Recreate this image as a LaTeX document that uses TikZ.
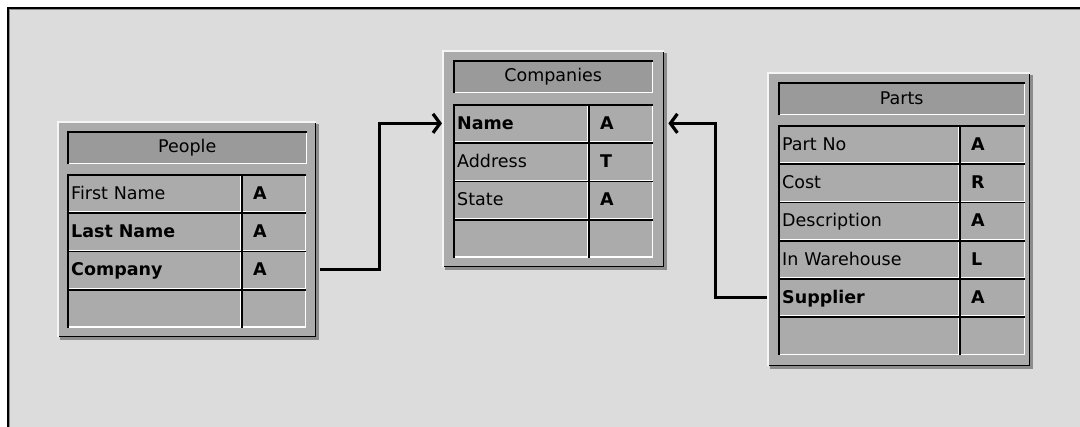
\documentclass[tikz,border=0pt]{standalone}
\usepackage{fontspec}
\setmainfont{DejaVu Sans}
\usetikzlibrary{arrows.meta,positioning,calc}
\definecolor{desk}{RGB}{220,220,220}
\definecolor{wingray}{RGB}{171,171,171}
\definecolor{barcolor}{RGB}{154,154,154}
\definecolor{shadowgray}{RGB}{140,140,140}
\definecolor{hilite}{RGB}{245,245,245}
\newcommand\fieldfont{\fontsize{17.5}{20}\selectfont}
% bevel: node, top/left colour, bottom/right colour
\newcommand\bevel[3]{%
  \draw[#3,line width=1.4pt] ([xshift=-.7pt]#1.north east) -- ([xshift=-.7pt,yshift=.7pt]#1.south east) -- ([yshift=.7pt]#1.south west);
  \draw[#2,line width=1.8pt] ([xshift=.9pt]#1.south west) -- ([xshift=.9pt,yshift=-.9pt]#1.north west) -- ([yshift=-.9pt]#1.north east);}
\tikzset{
  win/.style={fill=wingray, inner sep=0pt, anchor=north west},
  winshadow/.style={fill=shadowgray},
  titlebar/.style={fill=barcolor, inner sep=0pt, anchor=north west, minimum height=33pt, font=\fieldfont},
  field/.style={fill=wingray, anchor=north west, minimum height=38.3pt, inner sep=0pt, inner xsep=4pt, text width=#1, text height=14.5pt, text depth=2.5pt, align=left, font=\fieldfont},
  ftype/.style={fill=wingray, anchor=north west, minimum height=38.3pt, inner sep=0pt, inner xsep=12pt, text width=#1, text height=14.5pt, text depth=2.5pt, align=left, font=\fieldfont\bfseries},
  link/.style={line width=3pt, -{Straight Barb[length=7pt,width=19pt,line width=3.2pt]}},
}

\begin{document}
\begin{tikzpicture}[x=1pt,y=-1pt]
\useasboundingbox (0,0) rectangle (1080,427);
% desktop
\fill[white] (0,0) rectangle (1080,427);
\fill[desk] (7,7) rectangle (1080,427);
\draw[black,line width=2.4pt] (8.2,427) -- (8.2,8.2) -- (1080,8.2);
\draw[shadowgray,line width=1pt] (9.9,427) -- (9.9,9.9) -- (1080,9.9);
% People
\fill[winshadow] (60,124) rectangle ++(259,216);
\node[win, minimum width=259pt, minimum height=216pt] (ppl) at (57,121) {};
\bevel{ppl}{hilite}{black}
\node[titlebar, minimum width=240pt] (ppl-t) at (67,131) {People};
\bevel{ppl-t}{black}{white}
\foreach \fld/\typ/\wt [count=\i] in {First Name/A/\mdseries, Last Name/A/\bfseries, Company/A/\bfseries, {}/{}/\mdseries} {
  \node[field=166pt] (ppl-\i) at (67,{174+(\i-1)*38.3}) {\wt\fld};
  \node[ftype=41pt] (ppl-\i-ty) at (241,{174+(\i-1)*38.3}) {\typ};
  \bevel{ppl-\i}{black}{white}
  \bevel{ppl-\i-ty}{black}{white}
}
% Companies
\fill[winshadow] (445,53) rectangle ++(222,217);
\node[win, minimum width=222pt, minimum height=217pt] (co) at (442,50) {};
\bevel{co}{hilite}{black}
\node[titlebar, minimum width=200pt] (co-t) at (453,60) {Companies};
\bevel{co-t}{black}{white}
\foreach \fld/\typ/\wt [count=\i] in {Name/A/\bfseries, Address/T/\mdseries, State/A/\mdseries, {}/{}/\mdseries} {
  \node[field=127pt] (co-\i) at (453,{104+(\i-1)*38.3}) {\wt\fld};
  \node[ftype=41pt] (co-\i-ty) at (588,{104+(\i-1)*38.3}) {\typ};
  \bevel{co-\i}{black}{white}
  \bevel{co-\i-ty}{black}{white}
}
% Parts
\fill[winshadow] (770,75) rectangle ++(263,294);
\node[win, minimum width=263pt, minimum height=294pt] (pt) at (767,72) {};
\bevel{pt}{hilite}{black}
\node[titlebar, minimum width=247pt] (pt-t) at (778,82) {Parts};
\bevel{pt-t}{black}{white}
\foreach \fld/\typ/\wt [count=\i] in {Part No/A/\mdseries, Cost/R/\mdseries, Description/A/\mdseries, In Warehouse/L/\mdseries, Supplier/A/\bfseries, {}/{}/\mdseries} {
  \node[field=173pt] (pt-\i) at (778,{125+(\i-1)*38.3}) {\wt\fld};
  \node[ftype=42pt] (pt-\i-ty) at (959,{125+(\i-1)*38.3}) {\typ};
  \bevel{pt-\i}{black}{white}
  \bevel{pt-\i-ty}{black}{white}
}
% links
\coordinate (j1) at ($(ppl.east)!.5!(co.west)$);
\coordinate (j2) at ($(co.east)!.5!(pt.west)$);
\draw[link] ($(ppl.east |- ppl-3.center)+(4,0)$) -| (j1 |- co-1.center) -- (co.west |- co-1.center);
\draw[link] (pt.west |- pt-5.center) -| (j2 |- co-1.center) -- ($(co.east |- co-1.center)+(4,0)$);
\end{tikzpicture}
\end{document}
